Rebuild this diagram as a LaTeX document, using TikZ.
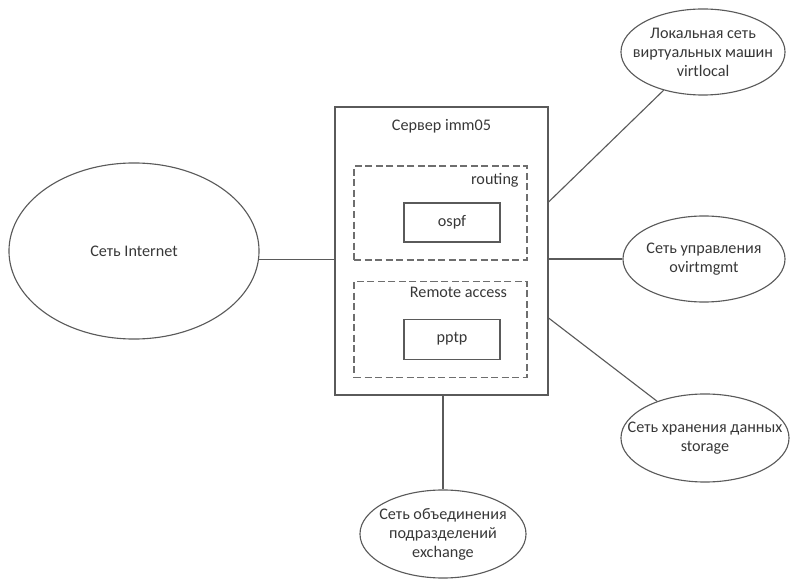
\documentclass[tikz,border=0pt]{standalone}
\usepackage{fontspec}
\setmainfont{Carlito}
\usetikzlibrary{shapes.geometric, positioning}
\definecolor{lineColor}{RGB}{90,90,90}
\definecolor{dashColor}{RGB}{110,110,110}
\definecolor{textColor}{RGB}{55,55,55}
\tikzset{network/.style={ellipse, draw=lineColor, line width=.8pt, align=center, inner sep=-3em, text=textColor}}
\tikzset{host/.style={rectangle, draw=lineColor, line width=.8pt, text=textColor}}
\tikzset{area/.style={host, draw=dashColor, dash pattern=on 5pt off 2.5pt}}
\tikzstyle{link} = [draw=lineColor, line width=.8pt]

\begin{document}
\begin{tikzpicture}[x=0.025cm, y=-0.025cm, font=\fontsize{11.5}{13.5}\selectfont]
	\useasboundingbox (0,0) rectangle (791,583);
	% Nodes
		\node (server) [host, minimum width=5.325cm, minimum height=7.2cm,
			label={[below=2mm, text=textColor]north:Сервер imm05}] at (441.5,251) {};

		\node (routing) [area, minimum width=4.325cm, minimum height=2.35cm,
			label={[anchor=north east, xshift=-1mm, yshift=-.8mm, text=textColor]north east:routing}] at (440.5,213) {};
		\node (ospf) [host, minimum width=2.4cm, minimum height=.975cm] at (452,222.5) {ospf};

		\node (remote) [area, below=.5cm of routing, minimum width=4.325cm, minimum height=2.4cm,
			label={[below=.5mm, xshift=4.5mm, text=textColor]north:Remote access}] {};
		\node (pptp) [host, below=1.9cm of ospf, minimum width=2.4cm, minimum height=1cm] {pptp};

		\node (internet) [network, minimum width=6.25cm, minimum height=4.4cm] at (134,251) {Сеть Internet};
		\node (virtlocal) [network, minimum width=4.1cm, minimum height=2.15cm] at (703,52) {Локальная сеть\\ виртуальных машин\\ virtlocal};
		\node (ovirtmgmt) [network, minimum width=4.05cm, minimum height=2.15cm] at (704,259) {Сеть управления\\ ovirtmgmt};
		\node (storage) [network, minimum width=4.2cm, minimum height=2.2cm] at (705,438) {Сеть хранения данных\\ storage};
		\node (exchange) [network, minimum width=4.15cm, minimum height=2.2cm] at (443,534) {Сеть объединения\\ подразделений\\ exchange};

		% Connectors
		\begin{scope}[link]
		\draw (internet.-4) -- (internet.-4 -| server.west);
		\draw ([yshift=1.225cm]server.east) -- (virtlocal);
		\draw (ovirtmgmt.west -| server.east) -- (ovirtmgmt.west);
		\draw ([yshift=-1.675cm]server.east) -- (storage);
		\draw (exchange.north |- server.south) -- (exchange.north);
		\end{scope}

\end{tikzpicture}
\end{document}
